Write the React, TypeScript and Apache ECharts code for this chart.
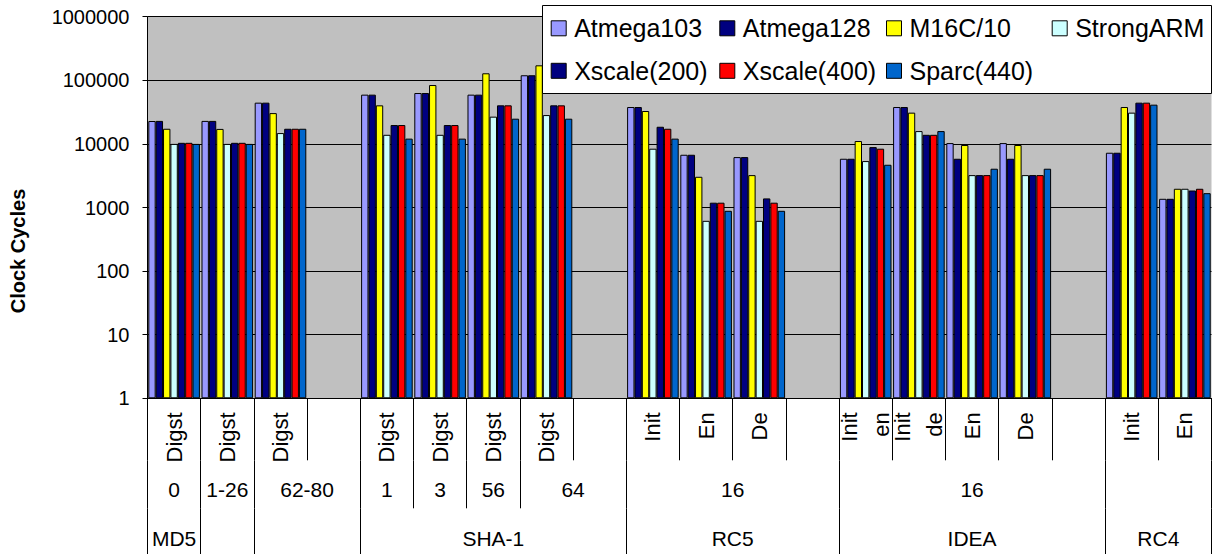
import React, { useEffect, useRef } from 'react';
import * as echarts from 'echarts';

// ---- categories (20 slots) ----
const level1Labels = ['Digst', 'Digst', 'Digst', '', 'Digst', 'Digst', 'Digst', 'Digst', '', 'Init', 'En', 'De', '', 'Init\nen', 'Init\nde', 'En', 'De', '', 'Init', 'En'];
const level2Names = ['0', '1-26', '62-80', '1', '3', '56', '64', '16', '16', ''];
const level2Spans = [1, 1, 2, 1, 1, 1, 2, 4, 5, 2];
const level3Names = ['MD5', '', '', 'SHA-1', 'RC5', 'IDEA', 'RC4'];
const level3Spans = [1, 1, 2, 5, 4, 5, 2];
const yTickLabels = ['1', '10', '100', '1000', '10000', '100000', '1000000'];

// ---- series ----
const seriesNames = ['Atmega103', 'Atmega128', 'M16C/10', 'StrongARM', 'Xscale(200)', 'Xscale(400)', 'Sparc(440)'];
const seriesColors = ['#9999FF', '#000080', '#FFFF00', '#CCFFFF', '#000080', '#FF0000', '#0066CC'];

const atmega103 = [22900, 23000, 44500, null, 59500, 63100, 59500, 120000, null, 38000, 6750, 6200, null, 5840, 38000, 10300, 10300, null, 7260, 1370];
const atmega128 = [23000, 23000, 44500, null, 59500, 63100, 59500, 120000, null, 38000, 6750, 6200, null, 5840, 38000, 5840, 5840, null, 7260, 1370];
const m16c10 = [17300, 17200, 30500, null, 40400, 84300, 128900, 172000, null, 32900, 3040, 3230, null, 11100, 31000, 9600, 9600, null, 38000, 1970];
const strongArm = [10000, 10000, 14800, null, 13900, 13900, 26800, 28400, null, 8400, 617, 617, null, 5370, 15900, 3230, 3230, null, 31000, 1970];
const xscale200 = [10400, 10400, 17300, null, 19800, 19800, 40400, 40400, null, 18600, 1190, 1390, null, 8900, 13900, 3230, 3230, null, 44500, 1850];
const xscale400 = [10400, 10400, 17300, null, 19800, 19800, 40400, 40400, null, 17300, 1190, 1190, null, 8400, 13900, 3230, 3230, null, 44500, 1970];
const sparc440 = [10000, 10000, 17300, null, 12100, 12100, 24900, 24900, null, 12100, 887, 887, null, 4700, 15900, 4070, 4070, null, 41400, 1680];

const seriesData = [atmega103, atmega128, m16c10, strongArm, xscale200, xscale400, sparc440];

const FONT = "'Liberation Sans', Arial, sans-serif";

function groups(spans: number[]) {
  let s = 0;
  return spans.map((sp) => {
    const r = { start: s, center: s + sp / 2 };
    s += sp;
    return r;
  });
}

export default function App() {
  const ref = useRef<HTMLDivElement>(null);

  useEffect(() => {
    if (!ref.current) return;
    const chart = echarts.init(ref.current, null, { renderer: 'svg' });

    const slotKeys = level1Labels.map((_, i) => 'slot' + i);
    const g2 = groups(level2Spans);
    const g3 = groups(level3Spans);
    const l2Starts = g2.map((g) => g.start);
    const l3Starts = g3.map((g) => g.start);
    const labelAt = (gs: { center: number }[], names: string[]) => (v: number) => {
      const i = gs.findIndex((g) => Math.abs(g.center - v) < 1e-6);
      return i >= 0 ? names[i] : '';
    };

    const black = { color: '#000', width: 1 };

    const legendCols = [550.7, 719.3, 886, 1051.7];
    const legends = seriesNames.map((name, i) => {
      const row = i < 4 ? 0 : 1;
      const col = i < 4 ? i : i - 4;
      return {
        show: true,
        data: [name],
        left: legendCols[col],
        top: row === 0 ? 11.8 : 52.8,
        orient: 'horizontal',
        padding: 0,
        itemGap: 0,
        itemWidth: 15,
        itemHeight: 15,
        icon: 'rect',
        selectedMode: false,
        itemStyle: { borderColor: '#000', borderWidth: 1 },
        textStyle: {
          color: '#000',
          fontSize: 25,
          fontFamily: FONT,
          lineHeight: 23,
          padding: [0, 0, row === 0 ? 10 : 13, 3],
        },
        z: 4,
      };
    });

    const option: any = {
      animation: false,
      backgroundColor: '#fff',
      textStyle: { fontFamily: FONT },
      grid: {
        left: 147.5,
        right: 1.5,
        top: 16.7,
        bottom: 155.7,
        show: true,
        backgroundColor: '#C0C0C0',
        borderWidth: 0,
        containLabel: false,
        outerBoundsMode: 'none',
      },
      legend: legends,
      graphic: [
        {
          type: 'rect',
          shape: { x: 542.5, y: 5.5, width: 669, height: 88 },
          style: { fill: '#fff', stroke: '#000', lineWidth: 1 },
          z: 3,
        },
        {
          type: 'text',
          x: 18,
          y: 251,
          rotation: Math.PI / 2,
          style: {
            text: 'Clock Cycles',
            fontSize: 20,
            fontWeight: 'bold',
            fontFamily: FONT,
            fill: '#000',
            align: 'center',
            verticalAlign: 'middle',
          },
          z: 3,
        },
      ],
      xAxis: [
        {
          type: 'category',
          data: slotKeys,
          position: 'bottom',
          boundaryGap: true,
          axisLine: { show: true, lineStyle: black },
          axisTick: { show: true, length: 62, interval: 0, lineStyle: black },
          axisLabel: {
            show: true,
            interval: 0,
            rotate: 90,
            margin: 14,
            formatter: (_v: string, i: number) => level1Labels[i],
            fontSize: 22,
            lineHeight: 32,
            color: '#000',
            fontFamily: FONT,
          },
          splitLine: { show: false },
        },
        {
          type: 'category',
          data: slotKeys,
          position: 'bottom',
          offset: 62,
          axisLine: { show: false },
          axisTick: { show: true, length: 48, interval: (i: number) => l2Starts.includes(i), lineStyle: black },
          axisLabel: { show: false },
          splitLine: { show: false },
        },
        {
          type: 'category',
          data: slotKeys,
          position: 'bottom',
          offset: 110,
          axisLine: { show: false },
          axisTick: { show: true, length: 46, interval: (i: number) => l3Starts.includes(i), lineStyle: black },
          axisLabel: { show: false },
          splitLine: { show: false },
        },
        {
          type: 'value',
          min: 0,
          max: 20,
          interval: 0.5,
          position: 'bottom',
          offset: 62,
          axisLine: { show: false },
          axisTick: { show: false },
          splitLine: { show: false },
          axisLabel: {
            show: true,
            formatter: labelAt(g2, level2Names),
            margin: 29.5,
            verticalAlign: 'middle',
            fontSize: 21,
            color: '#000',
            fontFamily: FONT,
            hideOverlap: false,
          },
        },
        {
          type: 'value',
          min: 0,
          max: 20,
          interval: 0.5,
          position: 'bottom',
          offset: 110,
          axisLine: { show: false },
          axisTick: { show: false },
          splitLine: { show: false },
          axisLabel: {
            show: true,
            formatter: labelAt(g3, level3Names),
            margin: 30.5,
            verticalAlign: 'middle',
            fontSize: 21,
            color: '#000',
            fontFamily: FONT,
            hideOverlap: false,
          },
        },
      ],
      yAxis: {
        type: 'log',
        logBase: 10,
        min: 1,
        max: 1000000,
        splitNumber: 6,
        axisLine: { show: true, lineStyle: black },
        axisTick: { show: true, inside: false, length: 5, lineStyle: black },
        axisLabel: {
          formatter: (v: number) => yTickLabels[Math.round(Math.log10(v))] ?? '',
          fontSize: 20,
          margin: 18,
          color: '#000',
          fontFamily: FONT,
        },
        splitLine: { show: true, lineStyle: black },
        minorTick: { show: false },
        minorSplitLine: { show: false },
      },
      series: seriesNames.map((name, i) => ({
        name,
        type: 'bar',
        xAxisIndex: 0,
        yAxisIndex: 0,
        data: seriesData[i],
        barGap: '0%',
        barCategoryGap: '3%',
        itemStyle: { color: seriesColors[i], borderColor: '#000', borderWidth: 1 },
        emphasis: { disabled: true },
      })),
    };

    chart.setOption(option);
    return () => chart.dispose();
  }, []);

  return (
    <div
      ref={ref}
      style={{ position: 'fixed', left: 0, top: 0, width: 1213, height: 554, background: '#fff' }}
    />
  );
}
